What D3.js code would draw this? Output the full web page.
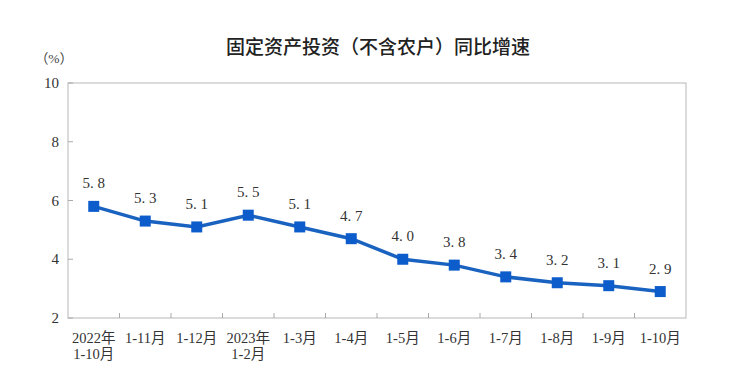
<!DOCTYPE html>
<html><head><meta charset="utf-8">
<script src="https://cdn.jsdelivr.net/npm/d3@7"></script>
<style>
html,body{margin:0;padding:0;background:#fff;}
</style></head>
<body>
<svg id="c" width="733" height="381"></svg>
<script>
const categories = [["2022年","1-10月"],["1-11月"],["1-12月"],["2023年","1-2月"],["1-3月"],["1-4月"],["1-5月"],["1-6月"],["1-7月"],["1-8月"],["1-9月"],["1-10月"]];
const values = [5.8,5.3,5.1,5.5,5.1,4.7,4.0,3.8,3.4,3.2,3.1,2.9];
const yTicks = [2,4,6,8,10];
const title = "固定资产投资（不含农户）同比增速";
const unit = "（%）";

const svg = d3.select("#c");
const L=68, R=686, T=83, B=318;
const x = d3.scaleBand().domain(d3.range(categories.length)).range([L,R]);
const y = d3.scaleLinear().domain([2,10]).range([B,T]);
const serif = "'Liberation Serif','DejaVu Serif','Noto Sans CJK SC',serif";

svg.append("text").attr("x",378).attr("y",54).attr("text-anchor","middle")
  .attr("font-family","'Noto Sans CJK SC',sans-serif").attr("font-size",19).attr("font-weight",500)
  .attr("fill","#222").text(title);
svg.append("text").attr("x",54).attr("y",63).attr("text-anchor","middle")
  .attr("font-family",serif).attr("font-size",13.5).attr("fill","#444").text(unit);

// frame
svg.append("rect").attr("x",L).attr("y",T).attr("width",R-L).attr("height",B-T)
  .attr("fill","none").attr("stroke","#c4c4c4").attr("stroke-width",1.2);

// y axis ticks & labels
yTicks.forEach(t=>{
  svg.append("line").attr("x1",L).attr("x2",L+5).attr("y1",y(t)).attr("y2",y(t)).attr("stroke","#aaa");
  svg.append("text").attr("x",L-9).attr("y",y(t)+5).attr("text-anchor","end")
    .attr("font-family",serif).attr("font-size",15).attr("fill","#333").text(t);
});
// x ticks at boundaries
d3.range(1,categories.length).forEach(i=>{
  const xx = x(i);
  svg.append("line").attr("x1",xx).attr("x2",xx).attr("y1",B).attr("y2",B-5).attr("stroke","#aaa");
});
// x labels
categories.forEach((c,i)=>{
  const t = svg.append("text").attr("text-anchor","middle").attr("font-family",serif)
    .attr("font-size",14.5).attr("fill","#333");
  c.forEach((s,j)=>{
    t.append("tspan").attr("x",x(i)+x.bandwidth()/2).attr("y",343+j*16).text(s);
  });
});

const cx = i => x(i)+x.bandwidth()/2;
svg.append("path").datum(values)
  .attr("d",d3.line().x((d,i)=>cx(i)).y(d=>y(d)))
  .attr("fill","none").attr("stroke","#1a62bf").attr("stroke-width",3.5);
svg.selectAll("rect.m").data(values).enter().append("rect").attr("class","m")
  .attr("x",(d,i)=>cx(i)-5.5).attr("y",d=>y(d)-5.5).attr("width",11).attr("height",11)
  .attr("fill","#0c5ccb");
svg.selectAll("text.v").data(values).enter().append("text").attr("class","v")
  .attr("x",(d,i)=>cx(i)).attr("y",d=>y(d)-18).attr("text-anchor","middle")
  .attr("font-family",serif).attr("font-size",15).attr("fill","#333")
  .text(d=>d.toFixed(1).replace(".",". "));
</script>
</body></html>
